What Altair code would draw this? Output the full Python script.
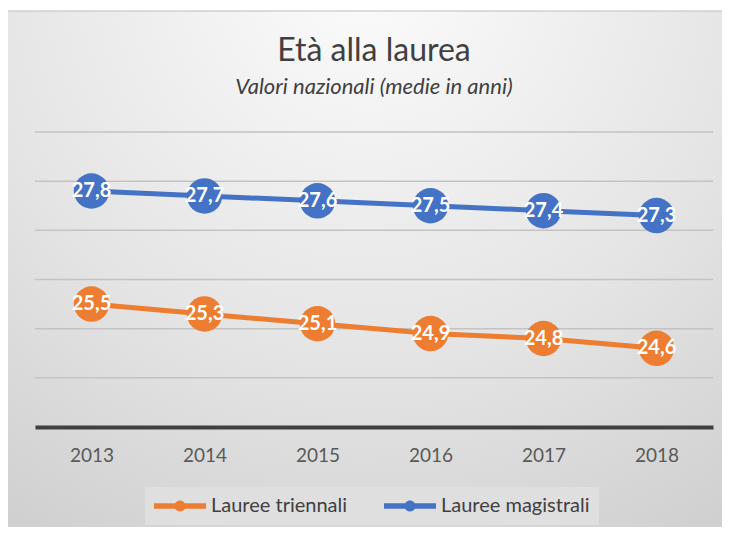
import altair as alt
import pandas as pd

# ---- data ----
years = ["2013", "2014", "2015", "2016", "2017", "2018"]
triennali = [25.5, 25.3, 25.1, 24.9, 24.8, 24.6]
magistrali = [27.8, 27.7, 27.6, 27.5, 27.4, 27.3]
series_names = ["Lauree triennali", "Lauree magistrali"]
series_colors = ["#ED7D31", "#4472C4"]
grid_values = [24, 25, 26, 27, 28, 29]
y_domain = [23, 29]

rows = []
for name, vals in zip(series_names, [triennali, magistrali]):
    for yr, v in zip(years, vals):
        rows.append({"anno": yr, "serie": name, "valore": v,
                     "etichetta": f"{v:.1f}".replace(".", ",")})
df = pd.DataFrame(rows)
grid_df = pd.DataFrame({"g": grid_values})

FONT = "Lato"
W, H = 678, 295
PAD = {"left": 27, "top": 124, "right": 9, "bottom": 100}

x_enc = alt.X("anno:O", sort=years,
              scale=alt.Scale(type="point", padding=0.5),
              axis=alt.Axis(title=None, labelAngle=0, ticks=False, grid=False,
                            domainColor="#404040", domainWidth=4,
                            labelFont=FONT, labelFontSize=19, labelColor="#595959",
                            labelPadding=19, zindex=1))
y_scale = alt.Scale(domain=y_domain, nice=False, zero=False)

bg = alt.Chart(pd.DataFrame({"a": [0]})).mark_rect(
    fill=alt.RadialGradient(
        gradient="radial",
        stops=[alt.GradientStop(color="#fcfcfc", offset=0),
               alt.GradientStop(color="#e4e4e4", offset=0.55),
               alt.GradientStop(color="#cbcbcb", offset=1)],
        x1=0.5, y1=0.08, r1=0, x2=0.5, y2=0.08, r2=1.0),
    stroke="#bdbdbd", strokeWidth=1,
).encode(x=alt.value(-28), x2=alt.value(W + PAD["right"] + 2),
         y=alt.value(-121), y2=alt.value(H + PAD["bottom"] + 2))

grid = alt.Chart(grid_df).mark_rule(color="#c3c3c3", strokeWidth=1.5).encode(
    y=alt.Y("g:Q", scale=y_scale, axis=None)
)

# stroke scale declared in reverse order so that it is not merged with the colour legend
lines = alt.Chart(df).mark_line(strokeWidth=5).encode(
    x=x_enc,
    y=alt.Y("valore:Q", scale=y_scale, axis=None),
    stroke=alt.Stroke("serie:N",
                      scale=alt.Scale(domain=series_names[::-1], range=series_colors[::-1]),
                      legend=None),
)

legend_path = ("M-2.6,-0.28 L2.6,-0.28 L2.6,0.28 L-2.6,0.28 Z "
               "M-0.55,0 A0.55,0.55 0 1,1 0.55,0 A0.55,0.55 0 1,1 -0.55,0 Z")

points = alt.Chart(df).mark_point(filled=True, shape="circle", size=1256, opacity=1).encode(
    x=x_enc,
    y=alt.Y("valore:Q", scale=y_scale, axis=None),
    color=alt.Color("serie:N", scale=alt.Scale(domain=series_names, range=series_colors),
                    legend=alt.Legend(title=None, orient="none", direction="horizontal",
                                      legendX=110, legendY=355,
                                      symbolType=legend_path, symbolSize=400,
                                      symbolStrokeWidth=0, symbolOpacity=1,
                                      symbolOffset=16, labelOffset=21,
                                      labelFont=FONT, labelFontSize=20, labelColor="#404040",
                                      columnPadding=36, padding=9,
                                      fillColor="#dfdfdf")),
)

labels = alt.Chart(df).mark_text(color="white", font=FONT, fontSize=20, fontWeight="bold",
                                 align="center", baseline="middle").encode(
    x=x_enc,
    y=alt.Y("valore:Q", scale=y_scale, axis=None),
    text="etichetta:N",
)

chart = alt.layer(bg, grid, lines, points, labels).properties(
    width=W, height=H,
    autosize=alt.AutoSizeParams(type="none"),
    padding=PAD,
    background="white",
    title=alt.TitleParams(
        text="Età alla laurea",
        subtitle="Valori nazionali (medie in anni)",
        font=FONT, fontSize=32, fontWeight="normal", color="#404040",
        subtitleFont=FONT, subtitleFontSize=22, subtitleFontStyle="italic",
        subtitleColor="#404040", subtitlePadding=9,
        anchor="middle", frame="group", offset=-88,
    ),
).configure_view(strokeWidth=0)

chart.save("out.html", embed_options={"renderer": "svg", "actions": False})
